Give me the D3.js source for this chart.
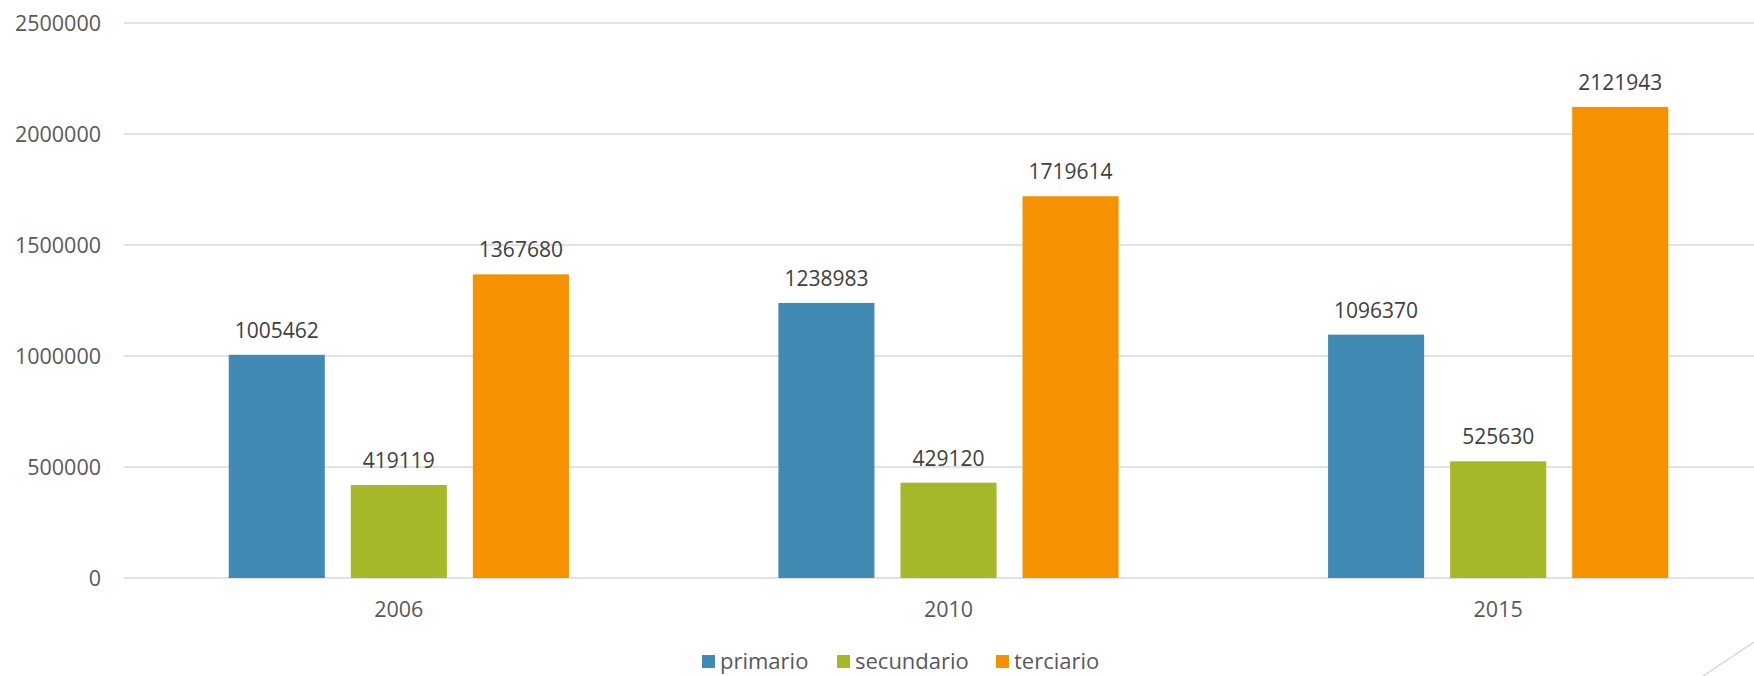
<!DOCTYPE html>
<html>
<head>
<meta charset="utf-8">
<script src="https://cdn.jsdelivr.net/npm/d3@7"></script>
<style>
  html, body { margin: 0; padding: 0; background: #fff; }
  svg { display: block; font-family: "Open Sans", "Noto Sans", sans-serif; }
  .grid line { stroke: #d9d9d9; stroke-width: 1.5; }
  .tick-label { fill: #595959; font-size: 21.5px; }
  .value-label { fill: #404040; font-size: 21px; }
  .legend-label { fill: #595959; font-size: 22px; }
</style>
</head>
<body>
<svg class="chart"></svg>
<script>
// DATA /////////////////////////////////
const years = ["2006", "2010", "2015"];
const sectors = ["primario", "secundario", "terciario"];
const primario = [1005462, 1238983, 1096370];
const secundario = [419119, 429120, 525630];
const terciario = [1367680, 1719614, 2121943];
const yTicks = [0, 500000, 1000000, 1500000, 2000000, 2500000];
const colors = ["#418ab3", "#a6b727", "#f69200"];

const seriesValues = [primario, secundario, terciario];
const rows = years.map((yr, i) => ({
  year: yr,
  values: sectors.map((s, j) => ({ sector: s, value: seriesValues[j][i] }))
}));

// DEFINITIONS /////////////////////////////////
const W = 1754, H = 676;
const plot = { left: 124, right: 1773, top: 23, bottom: 578 };

const svg = d3.select(".chart").attr("width", W).attr("height", H);

const x0 = d3.scaleBand().domain(years).range([plot.left, plot.right]).padding(0);
const x1 = d3
  .scaleBand()
  .domain(sectors)
  .range([0, x0.bandwidth()])
  .paddingInner(0.213)
  .paddingOuter(0.858);
const y = d3.scaleLinear().domain([0, 2500000]).range([plot.bottom, plot.top]);

// GRID /////////////////////////////////
svg
  .append("g")
  .attr("class", "grid")
  .selectAll("line")
  .data(yTicks)
  .enter()
  .append("line")
  .attr("x1", plot.left)
  .attr("x2", W)
  .attr("y1", (d) => y(d))
  .attr("y2", (d) => y(d));

// Y AXIS LABELS
svg
  .append("g")
  .selectAll("text")
  .data(yTicks)
  .enter()
  .append("text")
  .attr("class", "tick-label")
  .attr("x", 101)
  .attr("y", (d) => y(d))
  .attr("dy", "0.35em")
  .style("text-anchor", "end")
  .text((d) => d);

// X AXIS LABELS
svg
  .append("g")
  .selectAll("text")
  .data(years)
  .enter()
  .append("text")
  .attr("class", "tick-label")
  .attr("x", (d) => x0(d) + x0.bandwidth() / 2)
  .attr("y", plot.bottom + 39)
  .style("text-anchor", "middle")
  .text((d) => d);

// BARS /////////////////////////////////
const groups = svg
  .append("g")
  .selectAll(".group")
  .data(rows)
  .enter()
  .append("g")
  .attr("class", "group")
  .attr("transform", (d) => `translate(${x0(d.year)},0)`);

groups
  .selectAll("rect")
  .data((d) => d.values)
  .enter()
  .append("rect")
  .attr("x", (d) => x1(d.sector))
  .attr("width", x1.bandwidth())
  .attr("y", (d) => y(d.value))
  .attr("height", (d) => y(0) - y(d.value))
  .attr("fill", (d, i) => colors[i]);

groups
  .selectAll("text")
  .data((d) => d.values)
  .enter()
  .append("text")
  .attr("class", "value-label")
  .attr("x", (d) => x1(d.sector) + x1.bandwidth() / 2)
  .attr("y", (d) => y(d.value) - 17)
  .style("text-anchor", "middle")
  .text((d) => d.value);

// LEGEND /////////////////////////////////
const legendX = [702, 837, 996];
const legend = svg
  .append("g")
  .selectAll("g")
  .data(sectors)
  .enter()
  .append("g")
  .attr("transform", (d, i) => `translate(${legendX[i]}, 655)`);

legend
  .append("rect")
  .attr("width", 13)
  .attr("height", 13)
  .attr("fill", (d, i) => colors[i]);

legend
  .append("text")
  .attr("class", "legend-label")
  .attr("x", 18)
  .attr("y", 14)
  .text((d) => d);

// slide decoration in the corner
svg
  .append("line")
  .attr("x1", 1703)
  .attr("y1", H)
  .attr("x2", W)
  .attr("y2", 642)
  .attr("stroke", "#d9d9d9")
  .attr("stroke-width", 1.5);
</script>
</body>
</html>
